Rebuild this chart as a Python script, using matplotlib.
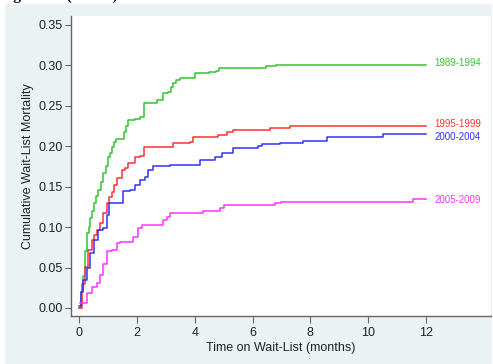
from matplotlib import pyplot as plt
from matplotlib.patches import Rectangle

# cumulative wait-list mortality by era (step curves)
t_8994 = [0, 0.08, 0.15, 0.22, 0.27, 0.33, 0.38, 0.45, 0.5, 0.58, 0.67, 0.75, 0.84, 0.93,
          1.01, 1.07, 1.13, 1.22, 1.28, 1.47, 1.55, 1.62, 1.70, 1.94, 2.11, 2.25, 2.63,
          2.70, 2.86, 2.91, 3.08, 3.17, 3.25, 3.35, 3.49, 3.91, 4.01, 4.5, 4.75, 4.85,
          6.36, 6.45, 6.7, 6.8, 12.0]
m_8994 = [0, 0.02, 0.04, 0.07, 0.093, 0.10, 0.111, 0.12, 0.130, 0.138, 0.146, 0.156, 0.167,
          0.176, 0.187, 0.192, 0.199, 0.205, 0.209, 0.209, 0.217, 0.225, 0.232, 0.234,
          0.236, 0.254, 0.254, 0.257, 0.257, 0.266, 0.267, 0.273, 0.278, 0.282, 0.284,
          0.284, 0.290, 0.292, 0.293, 0.297, 0.297, 0.299, 0.299, 0.301, 0.301]

t_9599 = [0, 0.1, 0.21, 0.32, 0.44, 0.52, 0.61, 0.72, 0.84, 0.96, 1.05, 1.13, 1.22, 1.30,
          1.47, 1.59, 1.70, 1.87, 1.94, 2.11, 2.25, 3.15, 3.25, 3.84, 3.94, 4.76, 4.8,
          5.05, 5.1, 5.33, 6.26, 6.6, 7.12, 7.3, 12.0]
m_9599 = [0, 0.03, 0.051, 0.072, 0.084, 0.09, 0.096, 0.105, 0.117, 0.130, 0.137, 0.144,
          0.152, 0.161, 0.171, 0.173, 0.179, 0.179, 0.187, 0.188, 0.199, 0.199, 0.204,
          0.205, 0.211, 0.211, 0.214, 0.214, 0.217, 0.220, 0.220, 0.223, 0.223, 0.225, 0.225]

t_0004 = [0, 0.08, 0.15, 0.26, 0.38, 0.5, 0.67, 0.84, 0.96, 1.05, 1.42, 1.53, 1.76, 1.94,
          2.11, 2.28, 2.4, 2.57, 3.03, 3.15, 4.07, 4.18, 4.64, 4.7, 4.93, 5.33, 6.03, 6.2,
          6.32, 6.95, 7.76, 8.56, 10.17, 10.5, 12.0]
m_0004 = [0.002, 0.02, 0.035, 0.049, 0.068, 0.084, 0.096, 0.099, 0.115, 0.130, 0.130,
          0.145, 0.146, 0.152, 0.158, 0.162, 0.171, 0.175, 0.175, 0.177, 0.177, 0.183,
          0.183, 0.187, 0.192, 0.198, 0.198, 0.200, 0.203, 0.204, 0.207, 0.212, 0.212,
          0.215, 0.215]

t_0509 = [0.03, 0.21, 0.27, 0.44, 0.61, 0.73, 0.84, 0.96, 1.13, 1.30, 1.42, 1.76, 1.88,
          2.05, 2.17, 2.74, 2.92, 3.03, 3.15, 4.18, 4.3, 4.88, 5.0, 6.7, 6.78, 7.0, 11.33,
          11.56, 12.0]
m_0509 = [0.006, 0.006, 0.018, 0.026, 0.031, 0.041, 0.055, 0.070, 0.072, 0.080, 0.082,
          0.082, 0.088, 0.099, 0.103, 0.103, 0.109, 0.113, 0.118, 0.118, 0.120, 0.124,
          0.127, 0.127, 0.130, 0.131, 0.131, 0.135, 0.135]

eras = ['1989-1994', '1995-1999', '2000-2004', '2005-2009']
label_y = [0.303, 0.228, 0.212, 0.134]
colors = ['#33C333', '#FF3030', '#3030FF', '#FF33FF']

xticks = [0, 2, 4, 6, 8, 10, 12]
yticks = [0.00, 0.05, 0.10, 0.15, 0.20, 0.25, 0.30, 0.35]

fig = plt.figure(figsize=(4.93, 3.64), dpi=100)
fig.patch.set_facecolor('white')
# stata-like graph region, behind the axes
bg = Rectangle((5 / 493, 0), 487 / 493, 360.5 / 364, transform=fig.transFigure,
               facecolor='#EAF2F3', edgecolor='none', zorder=-10)
fig.add_artist(bg)
fig.text(0.0, 1 + 0.5 / 364, 'Figure S2 (Status)', family='Liberation Serif', weight='bold',
         fontsize=11, ha='left', va='baseline', zorder=-5)

ax = fig.add_axes([71 / 493, 48 / 364, 420 / 493, 300 / 364])
ax.set_zorder(2)
ax.set_facecolor('white')

curves = [(t_8994, m_8994), (t_9599, m_9599), (t_0004, m_0004), (t_0509, m_0509)]
for (t, m), c, lab, ly in zip(curves, colors, eras, label_y):
    ax.step(t, m, where='post', color=c, lw=1.1)
    ax.text(12.3, ly, lab, color=c, fontsize=7, family='Liberation Sans', va='center', ha='left')

ax.set_xlim(-0.28, 14.25)
ax.set_ylim(-0.0099, 0.361)
ax.set_xticks(xticks)
ax.set_xticklabels([str(x) for x in xticks])
ax.set_yticks(yticks)
ax.set_yticklabels(['%.2f' % y for y in yticks])

for s in ['top', 'right']:
    ax.spines[s].set_visible(False)
for s in ['left', 'bottom']:
    ax.spines[s].set_color('#666666')
    ax.spines[s].set_linewidth(1.0)

ax.tick_params(axis='both', direction='out', width=0.8, color='#666666',
               labelsize=9, labelcolor='#222222')
ax.tick_params(axis='y', length=4, pad=2)
ax.tick_params(axis='x', length=5, pad=3)
for lbl in ax.get_xticklabels() + ax.get_yticklabels():
    lbl.set_family('Liberation Sans')

ax.set_ylabel('Cumulative Wait-List Mortality', family='Liberation Sans', fontsize=9,
              color='#222222', labelpad=3)
ax.set_xlabel('Time on Wait-List (months)', family='Liberation Sans', fontsize=9,
              color='#222222', labelpad=2)

plt.savefig('out.png', dpi=100)
